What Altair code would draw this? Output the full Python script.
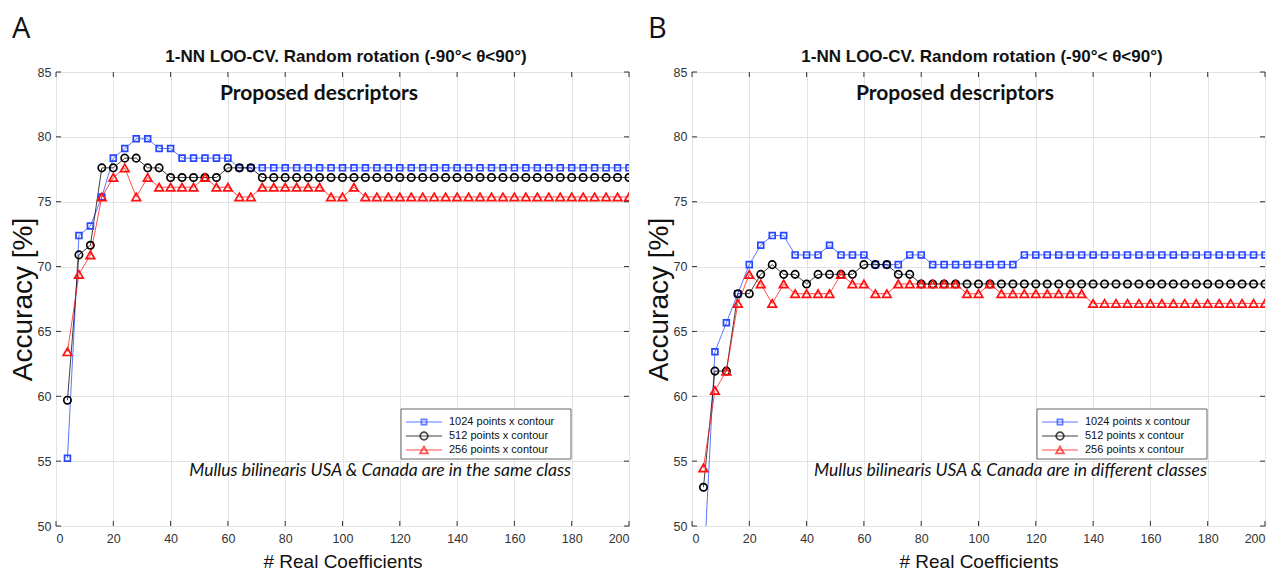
import altair as alt
import pandas as pd

# ---------------- data ----------------
coeffs = [4, 8, 12, 16, 20, 24, 28, 32, 36, 40, 44, 48, 52, 56, 60, 64, 68, 72, 76, 80,
          84, 88, 92, 96, 100, 104, 108, 112, 116, 120, 124, 128, 132, 136, 140, 144, 148,
          152, 156, 160, 164, 168, 172, 176, 180, 184, 188, 192, 196, 200]

series_names = ["1024 points x contour", "512 points x contour", "256 points x contour"]

# Panel A: USA & Canada in the same class
a_1024 = [55.22, 72.39, 73.13, 75.37, 78.36, 79.10, 79.85, 79.85, 79.10, 79.10,
          78.36, 78.36, 78.36, 78.36, 78.36] + [77.61] * 35
a_512 = [59.70, 70.90, 71.64, 77.61, 77.61, 78.36, 78.36, 77.61, 77.61, 76.87,
         76.87, 76.87, 76.87, 76.87, 77.61, 77.61, 77.61] + [76.87] * 33
a_256 = [63.43, 69.40, 70.90, 75.37, 76.87, 77.61, 75.37, 76.87, 76.12, 76.12,
         76.12, 76.12, 76.87, 76.12, 76.12, 75.37, 75.37, 76.12, 76.12, 76.12,
         76.12, 76.12, 76.12, 75.37, 75.37, 76.12] + [75.37] * 24

# Panel B: USA & Canada in different classes
b_1024 = [46.27, 63.43, 65.67, 67.91, 70.15, 71.64, 72.39, 72.39, 70.90, 70.90,
          70.90, 71.64, 70.90, 70.90, 70.90, 70.15, 70.15, 70.15, 70.90, 70.90,
          70.15, 70.15, 70.15, 70.15, 70.15, 70.15, 70.15, 70.15] + [70.90] * 22
b_512 = [52.99, 61.94, 61.94, 67.91, 67.91, 69.40, 70.15, 69.40, 69.40, 68.66,
         69.40, 69.40, 69.40, 69.40, 70.15, 70.15, 70.15, 69.40, 69.40] + [68.66] * 31
b_256 = [54.48, 60.45, 61.94, 67.16, 69.40, 68.66, 67.16, 68.66, 67.91, 67.91,
         67.91, 67.91, 69.40, 68.66, 68.66, 67.91, 67.91, 68.66, 68.66, 68.66,
         68.66, 68.66, 68.66, 67.91, 67.91, 68.66] + [67.91] * 8 + [67.16] * 16

x_ticks = [0, 20, 40, 60, 80, 100, 120, 140, 160, 180, 200]
y_ticks = [50, 55, 60, 65, 70, 75, 80, 85]

main_title = "1-NN  LOO-CV. Random rotation (-90°< θ<90°)"
inner_title = "Proposed descriptors"
notes = ["Mullus bilinearis USA & Canada are in the same class",
         "Mullus bilinearis USA & Canada are in different classes"]

# ---------------- style ----------------
W, H = 573, 454
colors = ["#2747ff", "#000000", "#ff1010"]
shapes = ["square", "circle", "triangle-up"]
sizes = [34, 74, 80]
SANS = "Liberation Sans"
CAL = "Lato"


def panel(letter, s1024, s512, s256, note):
    rows = []
    for name, vals in zip(series_names, [s1024, s512, s256]):
        for x, v in zip(coeffs, vals):
            rows.append({"coef": x, "acc": v, "series": name})
    df = pd.DataFrame(rows)

    xenc = alt.X("coef:Q", scale=alt.Scale(domain=[0, 200], nice=False),
                 axis=alt.Axis(values=x_ticks, title="# Real Coefficients",
                               grid=True, tickSize=0, labelPadding=6, domain=False,
                               titlePadding=8))
    yenc = alt.Y("acc:Q", scale=alt.Scale(domain=[50, 85], nice=False),
                 axis=alt.Axis(values=y_ticks, title="Accuracy [%]",
                               grid=True, tickSize=0, labelPadding=5, domain=False,
                               titlePadding=0))
    cscale = alt.Scale(domain=series_names, range=colors)

    base = alt.Chart(df)
    lines = base.mark_line(strokeWidth=1, opacity=0.75, clip=True).encode(
        x=xenc, y=yenc,
        color=alt.Color("series:N", scale=cscale, legend=None),
        order=alt.Order("coef:Q"))
    pts = base.mark_point(filled=False, strokeWidth=1.7, clip=True, opacity=1).encode(
        x="coef:Q", y="acc:Q",
        color=alt.Color("series:N", scale=cscale, legend=None),
        shape=alt.Shape("series:N", scale=alt.Scale(domain=series_names, range=shapes), legend=None),
        size=alt.Size("series:N", scale=alt.Scale(domain=series_names, range=sizes), legend=None))

    # inner tick marks (MATLAB style box)
    xt = alt.Chart(pd.DataFrame({"t": x_ticks}))
    yt = alt.Chart(pd.DataFrame({"t": y_ticks}))
    tk = dict(color="#333333", strokeWidth=1)
    ticks = [
        xt.mark_rule(**tk).encode(x="t:Q", y=alt.value(0), y2=alt.value(5)),
        xt.mark_rule(**tk).encode(x="t:Q", y=alt.value(H), y2=alt.value(H - 5)),
        yt.mark_rule(**tk).encode(y="t:Q", x=alt.value(0), x2=alt.value(5)),
        yt.mark_rule(**tk).encode(y="t:Q", x=alt.value(W), x2=alt.value(W - 5)),
    ]

    t1 = alt.Chart(pd.DataFrame({"t": [main_title]})).mark_text(
        font=SANS, fontSize=17, fontWeight="bold", color="#111111", baseline="middle"
    ).encode(x=alt.value(290), y=alt.value(-15), text="t:N")
    t2 = alt.Chart(pd.DataFrame({"t": [inner_title]})).mark_text(
        font=CAL, fontSize=21, fontWeight="bold", color="#111111", baseline="middle"
    ).encode(x=alt.value(263), y=alt.value(22), text="t:N")
    t3 = alt.Chart(pd.DataFrame({"t": [note]})).mark_text(
        font=CAL, fontSize=17.5, fontStyle="italic", color="#111111", baseline="middle",
        align="right"
    ).encode(x=alt.value(515), y=alt.value(399), text="t:N")

    # legend box
    box = alt.Chart(pd.DataFrame({"t": [0]})).mark_rect(
        fill="white", stroke="#666666", strokeWidth=1
    ).encode(x=alt.value(345), x2=alt.value(515), y=alt.value(337), y2=alt.value(387))
    leg = [box]
    for i, name in enumerate(series_names):
        ly = 350 + 14 * i
        d = alt.Chart(pd.DataFrame({"t": [name]}))
        leg.append(d.mark_rule(color=colors[i], strokeWidth=1, opacity=0.75).encode(
            x=alt.value(350), x2=alt.value(386), y=alt.value(ly)))
        leg.append(d.mark_point(shape=shapes[i], size=sizes[i] * 0.8, filled=False,
                                strokeWidth=1.7, color=colors[i]).encode(
            x=alt.value(368), y=alt.value(ly)))
        leg.append(d.mark_text(font=SANS, fontSize=11, align="left", baseline="middle",
                               color="#111111").encode(
            x=alt.value(393), y=alt.value(ly), text="t:N"))

    layer = alt.layer(lines, pts, *ticks, t1, t2, t3, *leg).properties(
        width=W, height=H,
        title=alt.TitleParams(letter, anchor="start", frame="bounds", font="Open Sans",
                              fontSize=29, fontWeight="normal", color="#111111",
                              offset=4, dx=3))
    return layer


chart = alt.hconcat(
    panel("A", a_1024, a_512, a_256, notes[0]),
    panel("B", b_1024, b_512, b_256, notes[1]),
    spacing=14,
).properties(
    padding={"left": 0, "top": 6, "right": 0, "bottom": 0},
    background="white",
).configure_view(
    stroke="#3a3a3a", strokeWidth=1
).configure_axis(
    gridColor="#e3e3e3", gridWidth=1,
    labelFont=SANS, labelFontSize=12.5, labelColor="#333333",
    titleFont=SANS, titleFontWeight="normal", titleColor="#111111",
).configure_axisX(titleFontSize=19).configure_axisY(titleFontSize=28)

chart.save("out.html", embed_options={"renderer": "svg", "actions": False})
